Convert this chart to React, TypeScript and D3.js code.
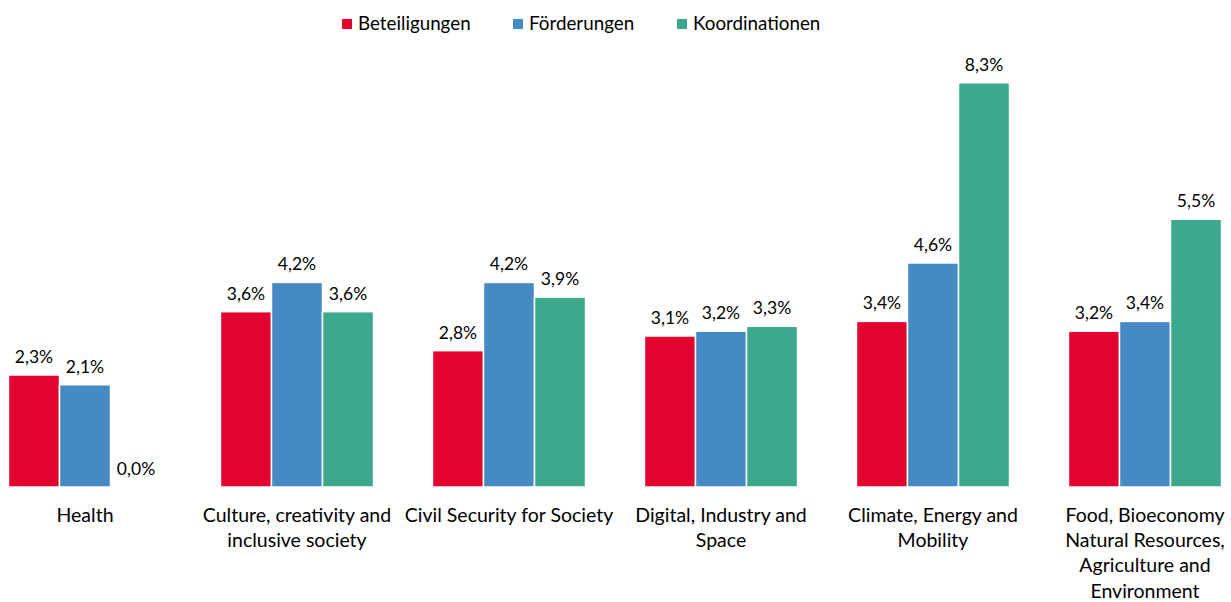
import React, { useEffect, useRef } from "react";
import * as d3 from "d3";

const categories = [
  "Health",
  "Culture, creativity and inclusive society",
  "Civil Security for Society",
  "Digital, Industry and Space",
  "Climate, Energy and Mobility",
  "Food, Bioeconomy Natural Resources, Agriculture and Environment",
];

// how the axis labels break in the original
const categoryLines = [
  ["Health"],
  ["Culture, creativity and", "inclusive society"],
  ["Civil Security for Society"],
  ["Digital, Industry and", "Space"],
  ["Climate, Energy and", "Mobility"],
  ["Food, Bioeconomy", "Natural Resources,", "Agriculture and", "Environment"],
];

const seriesNames = ["Beteiligungen", "Förderungen", "Koordinationen"];
const beteiligungen = [2.3, 3.6, 2.8, 3.1, 3.4, 3.2];
const foerderungen = [2.1, 4.2, 4.2, 3.2, 4.6, 3.4];
const koordinationen = [0.0, 3.6, 3.9, 3.3, 8.3, 5.5];
const colors = ["#E3032F", "#458AC3", "#3CA88C"];

const App = () => {
  const chart = useRef<SVGSVGElement>(null);

  useEffect(() => {
    document.body.style.margin = "0";
    const width = 1231;
    const height = 602;
    const font = "Lato, 'Open Sans', sans-serif";

    const series = [beteiligungen, foerderungen, koordinationen];

    const x = d3
      .scaleBand()
      .domain(categories)
      .range([-21, 1251])
      .paddingInner(0.278)
      .paddingOuter(0.139);

    const xInner = d3
      .scaleBand()
      .domain(seriesNames)
      .range([0, x.bandwidth()]);

    const y = d3.scaleLinear().domain([0, 10]).range([487, 0]);

    const svg = d3
      .select(chart.current)
      .attr("width", width)
      .attr("height", height);
    svg.selectAll("*").remove();

    const groups = svg
      .append("g")
      .selectAll("g")
      .data(categories)
      .join("g")
      .attr("transform", (d) => `translate(${x(d)},0)`);

    groups
      .selectAll("rect")
      .data((_, i) => seriesNames.map((s, k) => ({ s, k, v: series[k][i] })))
      .join("rect")
      .attr("x", (d) => xInner(d.s)!)
      .attr("y", (d) => y(d.v))
      .attr("width", xInner.bandwidth())
      .attr("height", (d) => y(0) - y(d.v))
      .attr("fill", (d) => colors[d.k])
      .attr("stroke", "#fff")
      .attr("stroke-width", 1.5);

    // value labels
    groups
      .selectAll("text.val")
      .data((_, i) => seriesNames.map((s, k) => ({ s, k, v: series[k][i] })))
      .join("text")
      .attr("class", "val")
      .attr("x", (d) => xInner(d.s)! + xInner.bandwidth() / 2)
      .attr("y", (d) => y(d.v) - 12)
      .attr("text-anchor", "middle")
      .attr("font-family", font)
      .attr("font-size", 17.5)
      .attr("fill", "#000")
      .text((d) => d3.format(".1f")(d.v).replace(".", ",") + "%");

    // category labels
    groups
      .append("text")
      .attr("text-anchor", "middle")
      .attr("font-family", font)
      .attr("font-size", 19.5)
      .attr("fill", "#000")
      .selectAll("tspan")
      .data((_, i) => categoryLines[i])
      .join("tspan")
      .attr("x", x.bandwidth() / 2)
      .attr("y", (_, j) => 522 + j * 25.2)
      .text((d) => d);

    // legend
    const legendX = [342, 513, 677];
    const legend = svg
      .append("g")
      .selectAll("g")
      .data(seriesNames)
      .join("g")
      .attr("transform", (_, i) => `translate(${legendX[i]},19)`);
    legend
      .append("rect")
      .attr("width", 10)
      .attr("height", 10)
      .attr("fill", (_, i) => colors[i]);
    legend
      .append("text")
      .attr("x", 16)
      .attr("y", 11)
      .attr("font-family", font)
      .attr("font-size", 18.8)
      .attr("fill", "#000")
      .text((d) => d);
  }, []);

  return (
    <div>
      <svg ref={chart}></svg>
    </div>
  );
};

export default App;
